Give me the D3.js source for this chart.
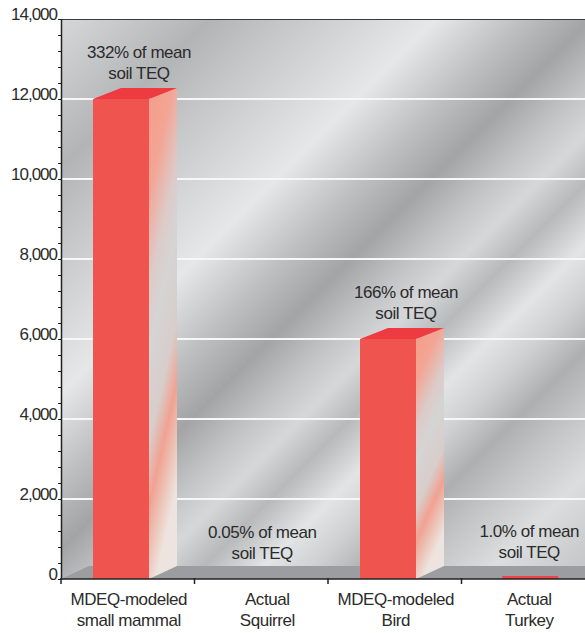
<!DOCTYPE html>
<html><head><meta charset="utf-8">
<script src="https://cdn.jsdelivr.net/npm/d3@7/dist/d3.min.js"></script>
<style>
html,body{margin:0;padding:0;background:#fff;}
text{font-family:"Liberation Sans",Arial,sans-serif;fill:#2b2b2b;}
</style></head>
<body>
<svg id="c" width="585" height="633"></svg>
<script>
// ---- data ----
const catLine1 = ["MDEQ-modeled", "Actual", "MDEQ-modeled", "Actual"];
const catLine2 = ["small mammal", "Squirrel", "Bird", "Turkey"];
const values = [12000, 1.8, 6000, 36];
const noteLine1 = ["332% of mean", "0.05% of mean", "166% of mean", "1.0% of mean"];
const noteLine2 = ["soil TEQ", "soil TEQ", "soil TEQ", "soil TEQ"];
const yTickValues = [0, 2000, 4000, 6000, 8000, 10000, 12000, 14000];

// ---- layout ----
const pL = 61, pR = 585, pT = 19, pB = 579;
const depthX = 28, depthY = 13;
const FS = 17, LS = -0.45;
const svg = d3.select("#c");
const defs = svg.append("defs");

const cats = catLine1.map((d, i) => i);
const x = d3.scaleBand().domain(cats).range([pL, pL + 4 * 133.5]).padding(0);
const y = d3.scaleLinear().domain([0, 14000]).range([pB, pT]);

// metallic background gradient (diagonal streaks)
const bg = defs.append("linearGradient").attr("id", "bg")
  .attr("gradientUnits", "userSpaceOnUse")
  .attr("x1", 40).attr("y1", 40).attr("x2", 582).attr("y2", 582);
const bgStops = [[80,"#d6d7d9"],[230,"#b3b4b6"],[300,"#c4c5c7"],[455,"#e6e7e8"],[540,"#bfc0c2"],
  [610,"#a3a4a6"],[670,"#c2c3c5"],[720,"#d6d7d9"],[770,"#b8b9bb"],[830,"#e3e4e5"],
  [880,"#cfd0d2"],[935,"#aeafb1"],[990,"#c4c5c7"],[1060,"#dcdddf"],[1164,"#c2c3c5"]];
bgStops.forEach(([s, c]) => bg.append("stop").attr("offset", (s - 80) / 1084).attr("stop-color", c));

const side = defs.append("linearGradient").attr("id", "side")
  .attr("x1", 0).attr("y1", 0).attr("x2", 0.25).attr("y2", 1);
[[0,"#f59c8a"],[0.2,"#f3a594"],[0.38,"#dccbc9"],[0.5,"#d5d4d4"],[0.68,"#d8cdca"],[0.8,"#f1a292"],[0.9,"#ecc4b8"],[1,"#eee4df"]]
  .forEach(([o, c]) => side.append("stop").attr("offset", o).attr("stop-color", c));

svg.append("clipPath").attr("id", "plot").append("rect")
  .attr("x", pL).attr("y", pT).attr("width", pR - pL).attr("height", pB - pT + 1);

const g = svg.append("g").attr("clip-path", "url(#plot)");
g.append("rect").attr("x", pL).attr("y", pT).attr("width", pR - pL).attr("height", pB - pT)
  .attr("fill", "url(#bg)");

// gridlines
g.selectAll("line.grid").data(yTickValues.filter(d => d > 0 && d < 14000)).join("line")
  .attr("x1", pL).attr("x2", pR).attr("y1", d => y(d)).attr("y2", d => y(d))
  .attr("stroke", "#f7f7f7").attr("stroke-width", 2);

// floor
g.append("path")
  .attr("d", `M${pL},${y(0)}L${pL + depthX},${y(0) - depthY}L${pR},${y(0) - depthY}L${pR},${y(0)}Z`)
  .attr("fill", "#9c9da0");

// bars
const barW = 56, barOff = 32;
values.forEach((v, i) => {
  const h = y(0) - y(v);
  if (h < 3) {
    if (v > 10) {
      const cx = x(i) + x.bandwidth() / 2 + 2;
      g.append("rect").attr("x", cx - barW / 2).attr("y", y(0) - 3).attr("width", barW).attr("height", 3)
        .attr("fill", "#ee4347");
    }
    return;
  }
  const x0 = x(i) + barOff, x1 = x0 + barW, yt = y(v), yb = y(0);
  g.append("path").attr("d", `M${x1},${yt}L${x1 + depthX},${yt - depthY + 2}L${x1 + depthX},${yb - depthY}L${x1},${yb}Z`)
    .attr("fill", "url(#side)");
  g.append("path").attr("d", `M${x0},${yt}L${x0 + depthX},${yt - depthY + 2}L${x1 + depthX},${yt - depthY + 2}L${x1},${yt}Z`)
    .attr("fill", "#ee3b42");
  g.append("rect").attr("x", x0).attr("y", yt).attr("width", barW).attr("height", yb - yt)
    .attr("fill", "#f0544f");
});

// top border
svg.append("line").attr("x1", pL).attr("x2", pR).attr("y1", pT + 0.5).attr("y2", pT + 0.5)
  .attr("stroke", "#3a3a3a").attr("stroke-width", 1);

// y axis
const minor = d3.range(0, 14001, 400);
const yAxis = d3.axisLeft(y).tickValues(minor).tickSize(4).tickSizeOuter(0).tickPadding(0)
  .tickFormat(d => yTickValues.includes(d) ? d3.format(",")(d) : "");
const ya = svg.append("g").attr("transform", `translate(${pL},0)`).call(yAxis);
ya.select(".domain").attr("stroke", "#222").attr("stroke-width", 1.5);
ya.selectAll(".tick line").attr("stroke", "#222").attr("x2", -3).attr("x1", 1);
ya.selectAll(".tick text").attr("dy", "0").attr("font-size", FS).attr("letter-spacing", "-1")
  .style("font-family", '"Liberation Sans",Arial,sans-serif').attr("fill", "#2b2b2b");

// x axis
svg.append("line").attr("x1", pL).attr("x2", pR).attr("y1", y(0)).attr("y2", y(0))
  .attr("stroke", "#222").attr("stroke-width", 1.5);
svg.selectAll("line.xt").data(cats).join("line")
  .attr("x1", d => x(d)).attr("x2", d => x(d)).attr("y1", y(0) - 1).attr("y2", y(0) + 5)
  .attr("stroke", "#222").attr("stroke-width", 1.5);
const lx = d => x(d) + x.bandwidth() / 2 + (d === 1 ? 6 : 1);
const xl = svg.selectAll("text.xl").data(cats).join("text")
  .attr("text-anchor", "middle").attr("font-size", FS).attr("letter-spacing", LS)
  .attr("x", lx);
xl.append("tspan").attr("y", 605).text(d => catLine1[d]);
xl.append("tspan").attr("y", 626).attr("x", lx).text(d => catLine2[d]);

// annotations
values.forEach((v, i) => {
  const big = (y(0) - y(v)) >= 3;
  const cx = big ? x(i) + barOff + (barW + depthX) / 2 + 4 : x(i) + x.bandwidth() / 2 + 1;
  const by = y(v) - 20;
  svg.append("text").attr("text-anchor", "middle").attr("font-size", FS).attr("letter-spacing", LS)
    .attr("x", cx).attr("y", by - 21).text(noteLine1[i]);
  svg.append("text").attr("text-anchor", "middle").attr("font-size", FS).attr("letter-spacing", LS)
    .attr("x", cx).attr("y", by).text(noteLine2[i]);
});
</script>
</body></html>
